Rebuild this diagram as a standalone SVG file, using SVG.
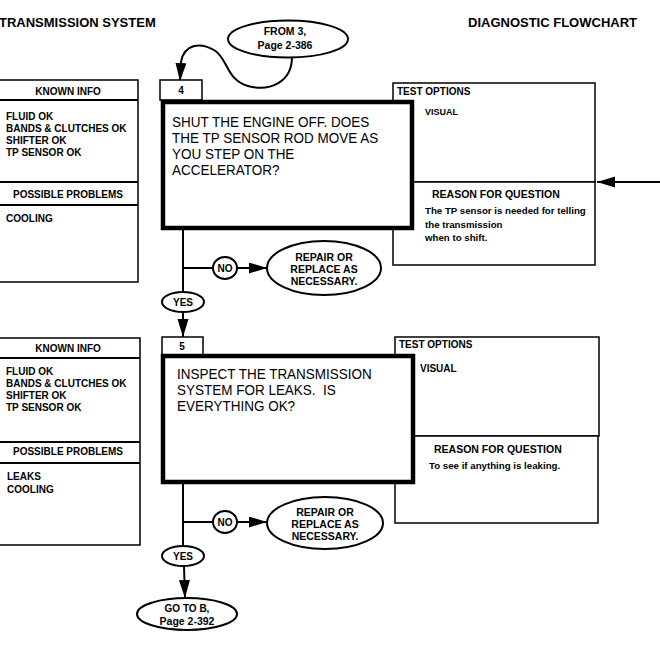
<svg xmlns="http://www.w3.org/2000/svg" width="660" height="645" viewBox="0 0 660 645">
<defs>
<style>
text{font-family:"Liberation Sans",Arial,Helvetica,sans-serif;fill:#000}
.t{font-size:13px;font-weight:bold}
.h{font-size:10px;font-weight:bold}
.h2{font-size:10.5px;font-weight:bold}
.s{font-size:10px;font-weight:bold}
.v{font-size:9px;font-weight:bold}
.r{font-size:9.7px;font-weight:bold}
.q{font-size:15px}
.box{fill:#fff;stroke:#000;stroke-width:1.5}
.main{fill:#fff;stroke:#000;stroke-width:4.5}
.ov{fill:#fff;stroke:#000;stroke-width:2}
.ln{fill:none;stroke:#000;stroke-width:2}
.dv{fill:none;stroke:#000;stroke-width:1.8}
.mid{text-anchor:middle}
</style>
<marker id="ah" markerUnits="userSpaceOnUse" markerWidth="20" markerHeight="12" refX="18" refY="5.5" orient="auto">
<path d="M0,0 L18,5.5 L0,11 z" fill="#000"/>
</marker>
</defs>
<rect width="660" height="645" fill="#fff"/>
<text class="t" x="-1" y="27">TRANSMISSION SYSTEM</text>
<text class="t" x="468" y="27">DIAGNOSTIC FLOWCHART</text>

<g id="connectors">
<path class="ln" d="M292,57 C292,82 270,92 248,86 C226,80 228,58 214,50 C200,42 184,44 181,62 L180,81" marker-end="url(#ah)"/>
<line class="ln" x1="183" y1="229" x2="183" y2="292"/>
<line class="ln" x1="183" y1="268" x2="213" y2="268"/>
<line class="ln" x1="237" y1="268" x2="267" y2="268" marker-end="url(#ah)"/>
<line class="ln" x1="183" y1="312" x2="183" y2="337" marker-end="url(#ah)"/>
<line class="ln" x1="660" y1="182" x2="597" y2="182" marker-end="url(#ah)"/>
<line class="ln" x1="183" y1="483" x2="183" y2="546"/>
<line class="ln" x1="183" y1="522" x2="213" y2="522"/>
<line class="ln" x1="237" y1="522" x2="267" y2="522" marker-end="url(#ah)"/>
<line class="ln" x1="184" y1="566" x2="185" y2="598" marker-end="url(#ah)"/>
</g>

<g id="from3">
<ellipse class="ov" cx="288" cy="39" rx="60" ry="18.5"/>
<text class="h2 mid" x="285" y="35">FROM 3,</text>
<text class="h2 mid" x="285" y="49">Page 2-386</text>
</g>

<g id="known4">
<rect class="box" x="-1" y="80" width="139" height="202"/>
<line class="dv" x1="-1" y1="100" x2="138" y2="100"/>
<line class="dv" x1="-1" y1="182" x2="138" y2="182"/>
<line class="dv" x1="-1" y1="205" x2="138" y2="205"/>
<text class="s mid" x="68" y="95">KNOWN INFO</text>
<text class="s" x="6" y="120">FLUID OK</text>
<text class="s" x="6" y="132">BANDS &amp; CLUTCHES OK</text>
<text class="s" x="6" y="144">SHIFTER OK</text>
<text class="s" x="6" y="156">TP SENSOR OK</text>
<text class="s mid" x="68" y="198">POSSIBLE PROBLEMS</text>
<text class="s" x="6" y="222">COOLING</text>
</g>

<g id="test4">
<rect class="box" x="393" y="83" width="202" height="99"/>
<rect class="box" x="393" y="182" width="202" height="83"/>
<text class="h" x="397" y="95">TEST OPTIONS</text>
<text class="v" x="425" y="115">VISUAL</text>
<text class="h2" x="432" y="198">REASON FOR QUESTION</text>
<text class="r" x="425" y="214">The TP sensor is needed for telling</text>
<text class="r" x="425" y="228">the transmission</text>
<text class="r" x="425" y="241">when to shift.</text>
</g>

<g id="step4">
<rect class="box" x="160" y="80" width="42" height="20"/>
<text class="h mid" x="181" y="94">4</text>
<rect class="main" x="163" y="102" width="249" height="126"/>
<g transform="translate(172,0) scale(0.9,1)">
<text class="q" x="0" y="127">SHUT THE ENGINE OFF. DOES</text>
<text class="q" x="0" y="143">THE TP SENSOR ROD MOVE AS</text>
<text class="q" x="0" y="159">YOU STEP ON THE</text>
<text class="q" x="0" y="175">ACCELERATOR?</text>
</g>
</g>

<g id="no4">
<ellipse class="ov" cx="225" cy="268" rx="12" ry="11"/>
<text class="s mid" x="225" y="272">NO</text>
</g>
<g id="repair4">
<ellipse class="ov" cx="324" cy="268" rx="57" ry="27"/>
<text class="h2 mid" x="324" y="261">REPAIR OR</text>
<text class="h2 mid" x="324" y="273">REPLACE AS</text>
<text class="h2 mid" x="324" y="285">NECESSARY.</text>
</g>
<g id="yes4">
<ellipse class="ov" cx="183" cy="302" rx="21" ry="10"/>
<text class="s mid" x="183" y="306">YES</text>
</g>

<g id="known5">
<rect class="box" x="-1" y="338" width="141" height="207"/>
<line class="dv" x1="-1" y1="358" x2="140" y2="358"/>
<line class="dv" x1="-1" y1="442" x2="140" y2="442"/>
<line class="dv" x1="-1" y1="463" x2="140" y2="463"/>
<text class="s mid" x="68" y="352">KNOWN INFO</text>
<text class="s" x="6" y="375">FLUID OK</text>
<text class="s" x="6" y="387">BANDS &amp; CLUTCHES OK</text>
<text class="s" x="6" y="399">SHIFTER OK</text>
<text class="s" x="6" y="411">TP SENSOR OK</text>
<text class="s mid" x="68" y="455">POSSIBLE PROBLEMS</text>
<text class="s" x="7" y="480">LEAKS</text>
<text class="s" x="7" y="493">COOLING</text>
</g>

<g id="test5">
<rect class="box" x="395" y="337" width="204" height="99"/>
<rect class="box" x="395" y="436" width="203" height="87"/>
<text class="h" x="399" y="348">TEST OPTIONS</text>
<text class="s" x="420" y="372">VISUAL</text>
<text class="h2" x="434" y="453">REASON FOR QUESTION</text>
<text class="r" x="429" y="469">To see if anything is leaking.</text>
</g>

<g id="step5">
<rect class="box" x="162" y="337" width="41" height="18"/>
<text class="h mid" x="182" y="350">5</text>
<rect class="main" x="163" y="356" width="250" height="126"/>
<g transform="translate(177,0) scale(0.9,1)">
<text class="q" x="0" y="379">INSPECT THE TRANSMISSION</text>
<text class="q" x="0" y="395">SYSTEM FOR LEAKS.&#160; IS</text>
<text class="q" x="0" y="411">EVERYTHING OK?</text>
</g>
</g>

<g id="no5">
<ellipse class="ov" cx="225" cy="522" rx="12" ry="11"/>
<text class="s mid" x="225" y="526">NO</text>
</g>
<g id="repair5">
<ellipse class="ov" cx="325" cy="523" rx="58" ry="26"/>
<text class="h2 mid" x="325" y="516">REPAIR OR</text>
<text class="h2 mid" x="325" y="528">REPLACE AS</text>
<text class="h2 mid" x="325" y="540">NECESSARY.</text>
</g>
<g id="yes5">
<ellipse class="ov" cx="183" cy="556" rx="21" ry="10"/>
<text class="s mid" x="183" y="560">YES</text>
</g>
<g id="goto">
<ellipse class="ov" cx="187" cy="614" rx="50" ry="16"/>
<text class="s mid" x="187" y="612">GO TO B,</text>
<text class="h2 mid" x="187" y="625">Page 2-392</text>
</g>
</svg>
